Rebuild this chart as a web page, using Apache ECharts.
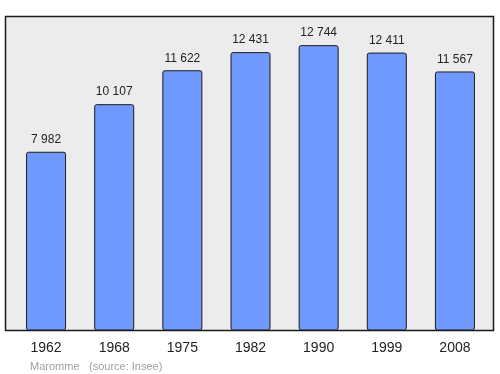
<!DOCTYPE html>
<html><head><meta charset="utf-8">
<script src="https://cdn.jsdelivr.net/npm/echarts@6/dist/echarts.min.js"></script>
<style>html,body{margin:0;padding:0;background:#fff}#c{width:500px;height:374px}</style>
</head><body><div id="c"></div>
<script>
const years = ['1962','1968','1975','1982','1990','1999','2008'];
const population = [7982, 10107, 11622, 12431, 12744, 12411, 11567];
const town = 'Maromme';
const source = '(source: Insee)';

const fmt = v => String(v).replace(/\B(?=(\d{3})+(?!\d))/g, '\u00a0');
const chart = echarts.init(document.getElementById('c'), null, {renderer:'canvas'});
chart.setOption({
  animation: false,
  textStyle: {fontFamily: 'Liberation Sans, Arial, sans-serif'},
  graphic: [
    {type:'rect', z:-10, zlevel:0, silent:true, shape:{x:5.5, y:16.5, width:488, height:314}, style:{fill:'#ececec', stroke:'#1a1a1a', lineWidth:1.5}},
    {type:'text', left:30, top:361, style:{text: town, fill:'#a0a0a0', font:'11px Liberation Sans, Arial, sans-serif'}},
    {type:'text', left:89, top:361, style:{text: source, fill:'#a0a0a0', font:'11px Liberation Sans, Arial, sans-serif'}}
  ],
  grid: {left:12, right:11, top:17, bottom:43.5},
  xAxis: {type:'category', data: years, axisLine:{show:false}, axisTick:{show:false},
    axisLabel:{color:'#222', fontSize:14, margin:11, fontFamily:'Liberation Sans, Arial, sans-serif'}},
  yAxis: {type:'value', min:0, max:14000, show:false, splitLine:{show:false}},
  series: [{type:'bar', data: population, barWidth:40,
    itemStyle:{color:'#7099ff', borderColor:'#1a1a1a', borderWidth:1, borderRadius:2},
    label:{show:true, position:'top', distance:6, color:'#222', fontSize:12, formatter: p => fmt(p.value)}
  }]
});
</script></body></html>
